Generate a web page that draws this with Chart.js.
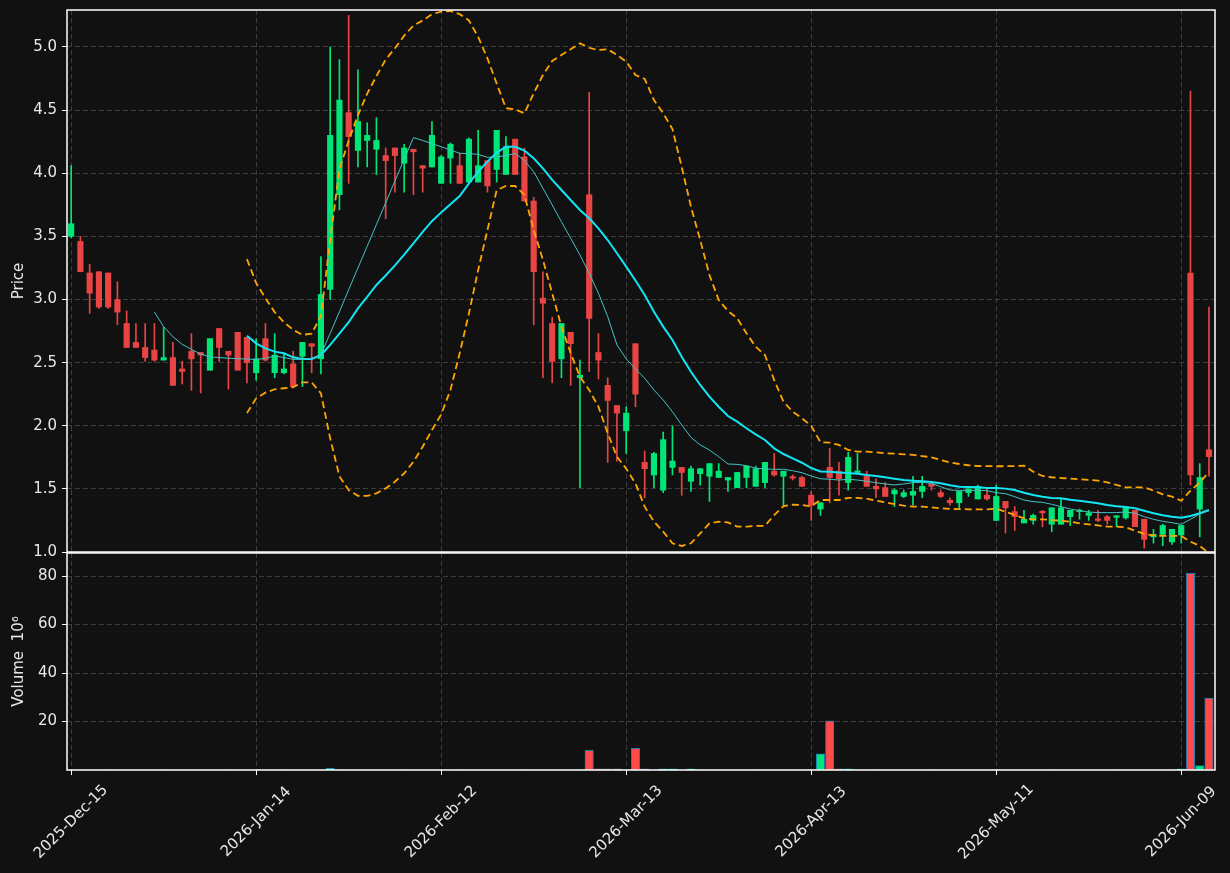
<!DOCTYPE html>
<html>
<head>
<meta charset="utf-8">
<title>Price / Volume</title>
<script src="https://cdn.jsdelivr.net/npm/chart.js@4.4.1/dist/chart.umd.min.js"></script>
<style>
    html, body { margin: 0; padding: 0; background: #111111; }
    #wrap { position: relative; width: 1230px; height: 873px; }
    #wrap canvas { position: absolute; left: 0; top: 0; }
</style>
</head>
<body>
<div id="wrap">
    <canvas id="price-chart" width="1230" height="873"></canvas>
    <canvas id="volume-chart" width="1230" height="873"></canvas>
</div>
<script>
// daily candles, index 0 = 2025-12-15
const opens = [
    3.50, 3.46, 3.21, 3.22, 3.21, 3.00, 2.81, 2.66, 2.62, 2.60,
    2.52, 2.54, 2.45, 2.59, 2.58, 2.44, 2.77, 2.59, 2.74, 2.70,
    2.42, 2.69, 2.42, 2.42, 2.49, 2.55, 2.65, 2.53, 3.08, 3.83,
    4.48, 4.18, 4.26, 4.19, 4.14, 4.20, 4.08, 4.19, 4.06, 4.05,
    3.92, 4.12, 4.06, 3.93, 3.93, 4.10, 4.03, 3.99, 4.27, 4.13,
    3.78, 3.01, 2.81, 2.53, 2.74, 2.38, 3.83, 2.58, 2.32, 2.16,
    1.96, 2.65, 1.71, 1.61, 1.49, 1.67, 1.67, 1.56, 1.62, 1.60,
    1.59, 1.57, 1.51, 1.59, 1.52, 1.55, 1.64, 1.60, 1.59, 1.59,
    1.45, 1.34, 1.67, 1.64, 1.55, 1.63, 1.60, 1.52, 1.51, 1.46,
    1.44, 1.45, 1.48, 1.54, 1.47, 1.41, 1.39, 1.47, 1.42, 1.45,
    1.25, 1.40, 1.32, 1.23, 1.25, 1.32, 1.22, 1.22, 1.28, 1.32,
    1.29, 1.26, 1.28, 1.275, 1.27, 1.33, 1.26, 1.12, 1.14, 1.08,
    1.135, 3.21, 1.34, 1.81
];
const highs = [
    4.06, 3.50, 3.28, 3.22, 3.21, 3.14, 2.91, 2.81, 2.81, 2.81,
    2.78, 2.66, 2.51, 2.73, 2.58, 2.69, 2.77, 2.59, 2.74, 2.70,
    2.69, 2.81, 2.73, 2.57, 2.59, 2.66, 2.65, 3.34, 5.00, 4.90,
    5.25, 4.82, 4.40, 4.44, 4.20, 4.20, 4.23, 4.19, 4.06, 4.41,
    4.14, 4.24, 4.16, 4.28, 4.34, 4.10, 4.34, 4.29, 4.27, 4.20,
    3.81, 3.22, 2.86, 2.81, 2.74, 2.52, 4.64, 2.73, 2.38, 2.16,
    2.15, 2.65, 1.80, 1.79, 1.95, 2.00, 1.67, 1.68, 1.66, 1.70,
    1.70, 1.59, 1.63, 1.68, 1.68, 1.71, 1.78, 1.64, 1.61, 1.60,
    1.48, 1.39, 1.82, 1.71, 1.79, 1.78, 1.64, 1.58, 1.55, 1.50,
    1.49, 1.60, 1.60, 1.54, 1.49, 1.43, 1.48, 1.50, 1.53, 1.50,
    1.53, 1.40, 1.36, 1.33, 1.30, 1.33, 1.35, 1.42, 1.33, 1.34,
    1.33, 1.33, 1.29, 1.29, 1.36, 1.33, 1.26, 1.18, 1.22, 1.18,
    1.21, 4.65, 1.70, 2.94
];
const lows = [
    3.49, 3.22, 2.89, 2.93, 2.93, 2.80, 2.62, 2.62, 2.51, 2.51,
    2.52, 2.32, 2.33, 2.28, 2.26, 2.44, 2.51, 2.29, 2.44, 2.34,
    2.36, 2.51, 2.38, 2.41, 2.30, 2.31, 2.42, 2.41, 3.00, 3.71,
    3.92, 4.05, 4.05, 3.99, 3.64, 3.85, 3.85, 3.83, 3.85, 4.05,
    3.92, 3.92, 3.92, 3.93, 3.93, 3.85, 3.93, 3.99, 3.99, 3.78,
    2.80, 2.38, 2.34, 2.38, 2.32, 1.51, 2.43, 2.37, 1.71, 1.72,
    1.78, 2.15, 1.43, 1.51, 1.47, 1.61, 1.45, 1.48, 1.53, 1.40,
    1.59, 1.48, 1.51, 1.51, 1.52, 1.51, 1.60, 1.37, 1.57, 1.52,
    1.25, 1.29, 1.39, 1.45, 1.49, 1.62, 1.52, 1.43, 1.44, 1.36,
    1.43, 1.37, 1.43, 1.49, 1.43, 1.37, 1.34, 1.44, 1.42, 1.41,
    1.25, 1.15, 1.17, 1.23, 1.22, 1.20, 1.16, 1.22, 1.21, 1.26,
    1.25, 1.24, 1.22, 1.20, 1.26, 1.20, 1.03, 1.07, 1.05, 1.06,
    1.07, 1.53, 1.12, 1.60
];
const closes = [
    3.60, 3.22, 3.05, 2.94, 2.94, 2.90, 2.62, 2.62, 2.54, 2.52,
    2.54, 2.32, 2.43, 2.53, 2.56, 2.69, 2.62, 2.56, 2.44, 2.50,
    2.53, 2.52, 2.56, 2.45, 2.31, 2.66, 2.63, 3.04, 4.30, 4.58,
    4.29, 4.41, 4.30, 4.26, 4.10, 4.14, 4.20, 4.17, 4.04, 4.30,
    4.13, 4.23, 3.92, 4.27, 4.06, 3.90, 4.34, 4.21, 3.99, 3.78,
    3.22, 2.97, 2.51, 2.81, 2.65, 2.40, 2.85, 2.52, 2.20, 2.10,
    2.10, 2.25, 1.66, 1.78, 1.89, 1.72, 1.63, 1.66, 1.66, 1.70,
    1.64, 1.59, 1.63, 1.68, 1.66, 1.71, 1.61, 1.64, 1.585, 1.52,
    1.37, 1.39, 1.59, 1.58, 1.75, 1.64, 1.52, 1.50, 1.44, 1.49,
    1.47, 1.48, 1.52, 1.52, 1.44, 1.39, 1.48, 1.50, 1.52, 1.42,
    1.44, 1.35, 1.28, 1.26, 1.29, 1.31, 1.35, 1.35, 1.33, 1.33,
    1.31, 1.25, 1.25, 1.285, 1.35, 1.20, 1.10, 1.14, 1.21, 1.18,
    1.21, 1.61, 1.59, 1.755
];
// volume in millions
const volumes = [
    0.02, 0.02, 0.02, 0.02, 0.02, 0.02, 0.02, 0.02, 0.02, 0.02,
    0.02, 0.02, 0.02, 0.02, 0.02, 0.02, 0.02, 0.02, 0.02, 0.02,
    0.02, 0.02, 0.02, 0.02, 0.02, 0.02, 0.02, 0.02, 0.8, 0.02,
    0.02, 0.02, 0.02, 0.02, 0.02, 0.02, 0.02, 0.02, 0.02, 0.02,
    0.02, 0.02, 0.02, 0.02, 0.02, 0.02, 0.02, 0.02, 0.02, 0.02,
    0.02, 0.02, 0.02, 0.02, 0.02, 0.02, 8.1, 0.5, 0.5, 0.5,
    0.02, 8.9, 0.5, 0.02, 0.5, 0.5, 0.02, 0.5, 0.02, 0.02,
    0.02, 0.02, 0.02, 0.02, 0.02, 0.02, 0.02, 0.02, 0.02, 0.02,
    0.02, 6.7, 20.3, 0.5, 0.5, 0.02, 0.02, 0.02, 0.02, 0.02,
    0.02, 0.02, 0.02, 0.02, 0.02, 0.02, 0.02, 0.02, 0.02, 0.02,
    0.02, 0.02, 0.02, 0.02, 0.02, 0.02, 0.02, 0.02, 0.02, 0.02,
    0.02, 0.02, 0.02, 0.02, 0.02, 0.02, 0.02, 0.02, 0.02, 0.02,
    0.5, 81.1, 1.8, 29.7
];

// overlays (each starts at its own index)
const ma10Start = 9;
const ma10 = [
    2.90, 2.785, 2.705, 2.645, 2.605, 2.568, 2.545, 2.54, 2.535, 2.531,
    2.528, 2.525, 2.534, 2.552, 2.54, 2.526, 2.526, 2.534, 2.564, 2.731,
    2.904, 3.077, 3.25, 3.422, 3.594, 3.766, 3.939, 4.111, 4.282, 4.26,
    4.235, 4.21, 4.184, 4.158, 4.155, 4.15, 4.126, 4.13, 4.139, 4.158,
    4.10, 4.012, 3.881, 3.749, 3.616, 3.485, 3.352, 3.208, 3.049, 2.864,
    2.64, 2.53, 2.45, 2.376, 2.283, 2.204, 2.111, 2.006, 1.908, 1.848,
    1.808, 1.755, 1.697, 1.694, 1.684, 1.663, 1.658, 1.655, 1.655, 1.644,
    1.628, 1.602, 1.58, 1.576, 1.57, 1.576, 1.57, 1.56, 1.549, 1.539,
    1.531, 1.539, 1.549, 1.552, 1.544, 1.517, 1.491, 1.488, 1.488, 1.488,
    1.486, 1.47, 1.462, 1.438, 1.412, 1.399, 1.393, 1.378, 1.359, 1.341,
    1.327, 1.317, 1.312, 1.312, 1.312, 1.317, 1.307, 1.28, 1.259, 1.243,
    1.232, 1.219, 1.259, 1.301, 1.327
];
const ma20Start = 19;
const ma20 = [
    2.713, 2.653, 2.613, 2.587, 2.574, 2.542, 2.529, 2.529, 2.56, 2.64,
    2.73, 2.82, 2.93, 3.02, 3.115, 3.19, 3.27, 3.355, 3.445, 3.535,
    3.62, 3.69, 3.755, 3.82, 3.92, 4.012, 4.092, 4.163, 4.21, 4.21,
    4.179, 4.118, 4.039, 3.947, 3.867, 3.788, 3.709, 3.643, 3.564, 3.471,
    3.366, 3.26, 3.15, 3.036, 2.903, 2.785, 2.679, 2.547, 2.428, 2.323,
    2.23, 2.151, 2.077, 2.032, 1.98, 1.932, 1.887, 1.821, 1.776, 1.742,
    1.707, 1.665, 1.638, 1.636, 1.63, 1.626, 1.62, 1.61, 1.602, 1.592,
    1.581, 1.57, 1.565, 1.56, 1.554, 1.544, 1.528, 1.517, 1.515, 1.512,
    1.507, 1.507, 1.502, 1.491, 1.47, 1.451, 1.438, 1.428, 1.425, 1.414,
    1.406, 1.396, 1.386, 1.372, 1.362, 1.356, 1.346, 1.327, 1.307, 1.291,
    1.28, 1.272, 1.285, 1.307, 1.333
];
const bandStart = 19;
const bandUpper = [
    3.32, 3.13, 3.01, 2.90, 2.82, 2.76, 2.72, 2.73, 2.87, 3.47,
    4.03, 4.26, 4.46, 4.63, 4.77, 4.90, 4.99, 5.09, 5.17, 5.21,
    5.26, 5.28, 5.285, 5.26, 5.21, 5.08, 4.91, 4.71, 4.515, 4.506,
    4.475, 4.633, 4.778, 4.889, 4.937, 4.982, 5.029, 4.994, 4.976, 4.982,
    4.937, 4.884, 4.778, 4.747, 4.58, 4.475, 4.35, 4.05, 3.735, 3.471,
    3.194, 2.996, 2.909, 2.851, 2.732, 2.626, 2.56, 2.362, 2.191, 2.111,
    2.059, 2.0, 1.87, 1.866, 1.848, 1.808, 1.795, 1.795, 1.79, 1.782,
    1.779, 1.774, 1.77, 1.76, 1.75, 1.729, 1.71, 1.697, 1.687, 1.681,
    1.68, 1.679, 1.679, 1.681, 1.684, 1.636, 1.602, 1.592, 1.586, 1.582,
    1.576, 1.571, 1.565, 1.552, 1.531, 1.512, 1.512, 1.512, 1.486, 1.457,
    1.438, 1.406, 1.486, 1.549, 1.636
];
const bandLower = [
    2.10, 2.217, 2.262, 2.289, 2.297, 2.305, 2.344, 2.344, 2.257, 1.90,
    1.60, 1.49, 1.445, 1.444, 1.465, 1.504, 1.557, 1.623, 1.715, 1.834,
    1.966, 2.09, 2.283, 2.574, 2.891, 3.234, 3.55, 3.867, 3.899, 3.899,
    3.828, 3.55, 3.313, 3.049, 2.785, 2.574, 2.389, 2.283, 2.151, 1.94,
    1.755, 1.66, 1.544, 1.359, 1.24, 1.161, 1.069, 1.048, 1.069, 1.148,
    1.227, 1.24, 1.235, 1.201, 1.201, 1.206, 1.208, 1.293, 1.364, 1.375,
    1.372, 1.362, 1.412, 1.412, 1.412, 1.428, 1.428, 1.422, 1.406, 1.394,
    1.38, 1.367, 1.359, 1.359, 1.354, 1.346, 1.341, 1.34, 1.338, 1.338,
    1.338, 1.343, 1.319, 1.293, 1.267, 1.259, 1.259, 1.253, 1.248, 1.24,
    1.227, 1.219, 1.211, 1.201, 1.201, 1.196, 1.169, 1.143, 1.132, 1.127,
    1.127, 1.127, 1.082, 1.048, 0.99
];

const tickPositions = [0, 20, 40, 60, 80, 100, 120];
const tickLabels = ['2025-Dec-15', '2026-Jan-14', '2026-Feb-12', '2026-Mar-13', '2026-Apr-13', '2026-May-11', '2026-Jun-09'];
const priceTicks = [1.0, 1.5, 2.0, 2.5, 3.0, 3.5, 4.0, 4.5, 5.0];
const volumeTicks = [20, 40, 60, 80];

document.addEventListener('DOMContentLoaded', () => {
    const UP = '#00e676';
    const DOWN = '#e94444';
    const VOL_DOWN = '#ff4a4a';
    const GRID = '#3d3d3d';
    const TEXT = '#e8e8e8';
    const FONT = { family: 'DejaVu Sans', size: 15 };
    const X_MIN = -0.45;
    const X_MAX = 123.65;

    const isUp = opens.map((o, i) => closes[i] >= o);
    const candleColors = isUp.map(up => up ? UP : DOWN);
    const volumeColors = isUp.map(up => up ? UP : VOL_DOWN);

    const toPoints = (arr, start) => arr.map((v, k) => ({ x: start + k, y: v }));

    // white box round each panel
    const framePlugin = {
        id: 'frame',
        afterDraw(chart) {
            const { ctx, chartArea: a } = chart;
            ctx.save();
            ctx.strokeStyle = '#ffffff';
            ctx.lineWidth = 1.5;
            ctx.strokeRect(a.left, a.top, a.right - a.left, a.bottom - a.top);
            ctx.restore();
        }
    };

    // date labels centred under the ticks, turned 45 degrees
    const dateLabelPlugin = {
        id: 'dateLabels',
        afterDraw(chart) {
            const { ctx, chartArea } = chart;
            const xAxis = chart.scales.x;
            ctx.save();
            ctx.fillStyle = TEXT;
            ctx.font = '15px "DejaVu Sans"';
            ctx.textAlign = 'center';
            ctx.textBaseline = 'middle';
            tickPositions.forEach((pos, k) => {
                ctx.save();
                ctx.translate(xAxis.getPixelForValue(pos), chartArea.bottom + 52);
                ctx.rotate(-Math.PI / 4);
                ctx.fillText(tickLabels[k], 0, 0);
                ctx.restore();
            });
            ctx.restore();
        }
    };

    function xScale(drawTicks) {
        return {
            type: 'linear',
            min: X_MIN,
            max: X_MAX,
            offset: false,
            afterBuildTicks: s => { s.ticks = tickPositions.map(v => ({ value: v })); },
            afterFit: s => { s.height = 0; s.paddingLeft = 0; s.paddingRight = 0; },
            ticks: { display: false },
            grid: { color: GRID, offset: false, drawTicks: drawTicks, tickLength: 5, tickColor: '#ffffff', tickWidth: 1 },
            border: { display: false, dash: [5, 3] }
        };
    }

    function yAxisBase(ticks, title, min, max, format) {
        return {
            min: min,
            max: max,
            beginAtZero: false,
            afterBuildTicks: s => { s.ticks = ticks.map(v => ({ value: v })); },
            afterFit: s => { s.width = 67; s.paddingTop = 0; s.paddingBottom = 0; },
            ticks: { color: TEXT, font: FONT, padding: 5, callback: format },
            grid: { color: GRID, tickColor: '#ffffff', tickLength: 5, tickWidth: 1 },
            border: { display: false, dash: [5, 3] },
            title: { display: true, text: title, color: TEXT, font: FONT, padding: { top: 10, bottom: 0 } }
        };
    }

    const commonOptions = {
        responsive: false,
        animation: false,
        devicePixelRatio: 1,
        events: [],
        plugins: { legend: { display: false }, tooltip: { enabled: false } }
    };

    const priceCtx = document.getElementById('price-chart').getContext('2d');
    new Chart(priceCtx, {
        type: 'bar',
        data: {
            datasets: [
                {
                    type: 'line', label: 'MA10', data: toPoints(ma10, ma10Start),
                    borderColor: '#45c4c4', borderWidth: 1, pointRadius: 0, tension: 0, order: 0
                },
                {
                    type: 'line', label: 'MA20', data: toPoints(ma20, ma20Start),
                    borderColor: '#10e6f6', borderWidth: 2, pointRadius: 0, tension: 0, order: 0
                },
                {
                    type: 'line', label: 'Upper band', data: toPoints(bandUpper, bandStart),
                    borderColor: '#ffa500', borderWidth: 1.8, borderDash: [7, 4], pointRadius: 0, tension: 0, order: 0
                },
                {
                    type: 'line', label: 'Lower band', data: toPoints(bandLower, bandStart),
                    borderColor: '#ffa500', borderWidth: 1.8, borderDash: [7, 4], pointRadius: 0, tension: 0, order: 0
                },
                {
                    label: 'Body',
                    data: opens.map((o, i) => ({ x: i, y: [o, closes[i]] })),
                    backgroundColor: candleColors,
                    barThickness: 5.5,
                    minBarLength: 1.5,
                    grouped: false,
                    order: 1
                },
                {
                    label: 'Wick',
                    data: lows.map((l, i) => ({ x: i, y: [l, highs[i]] })),
                    backgroundColor: candleColors,
                    barThickness: 1,
                    grouped: false,
                    order: 2
                }
            ]
        },
        options: {
            ...commonOptions,
            layout: { padding: { left: 0, right: 15, top: 10, bottom: 321 } },
            scales: {
                x: xScale(false),
                y: yAxisBase(priceTicks, 'Price', 1.0, 5.293, v => Number(v).toFixed(1))
            }
        },
        plugins: [framePlugin]
    });

    const volumeCtx = document.getElementById('volume-chart').getContext('2d');
    new Chart(volumeCtx, {
        type: 'bar',
        data: {
            datasets: [{
                label: 'Volume',
                data: volumes.map((v, i) => ({ x: i, y: v })),
                backgroundColor: volumeColors,
                borderColor: '#1f77b4',
                borderWidth: 1,
                barThickness: 8.5,
                grouped: false
            }]
        },
        options: {
            ...commonOptions,
            layout: { padding: { left: 0, right: 15, top: 553, bottom: 103 } },
            scales: {
                x: xScale(true),
                y: yAxisBase(volumeTicks, 'Volume  10\u2076', 0, 89.5, v => String(v))
            }
        },
        plugins: [framePlugin, dateLabelPlugin]
    });
});
</script>
</body>
</html>
